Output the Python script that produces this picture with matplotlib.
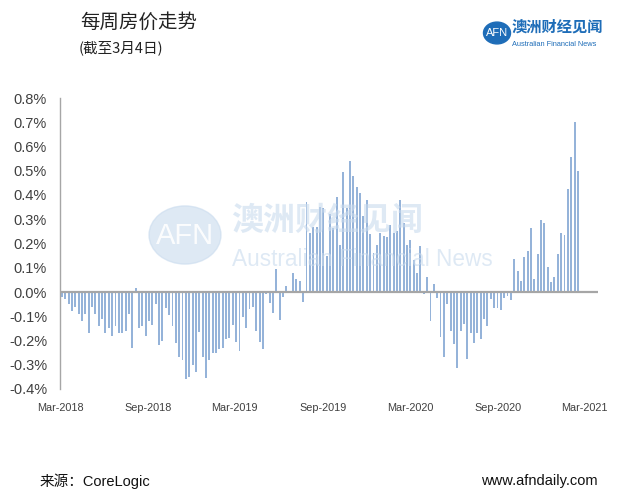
import matplotlib
matplotlib.use("Agg")
import matplotlib.pyplot as plt
import matplotlib.dates as mdates
from matplotlib.patches import Circle
import pandas as pd

plt.rcParams['font.family'] = ['Liberation Sans', 'Noto Sans CJK SC', 'DejaVu Sans']

# ---- data (weekly change, %) ----
start_date = "2018-03-05"
weekly_change = [
    -0.02, -0.03, -0.05, -0.08, -0.06, -0.09, -0.12, -0.09, -0.17, -0.06,
    -0.09, -0.14, -0.11, -0.17, -0.15, -0.18, -0.14, -0.17, -0.17, -0.16,
    -0.09, -0.23, 0.015, -0.15, -0.14, -0.18, -0.12, -0.135, -0.05, -0.22,
    -0.20, -0.065, -0.095, -0.14, -0.21, -0.27, -0.28, -0.36, -0.35, -0.30,
    -0.33, -0.165, -0.27, -0.355, -0.28, -0.25, -0.25, -0.235, -0.23, -0.195,
    -0.19, -0.135, -0.205, -0.245, -0.105, -0.15, -0.07, -0.06, -0.16, -0.205,
    -0.235, -0.01, -0.045, -0.085, 0.095, -0.115, -0.02, 0.025, -0.005, 0.08,
    0.055, 0.045, -0.04, 0.37, 0.245, 0.27, 0.27, 0.35, 0.345, 0.15,
    0.32, 0.265, 0.39, 0.195, 0.495, 0.345, 0.54, 0.48, 0.435, 0.41,
    0.315, 0.38, 0.24, 0.16, 0.195, 0.245, 0.23, 0.225, 0.275, 0.245,
    0.25, 0.38, 0.285, 0.195, 0.215, 0.13, 0.08, 0.19, -0.01, 0.06,
    -0.12, 0.035, -0.025, -0.185, -0.27, -0.05, -0.16, -0.215, -0.315, -0.16,
    -0.13, -0.275, -0.17, -0.21, -0.17, -0.195, -0.11, -0.14, -0.03, -0.065,
    -0.065, -0.075, -0.025, -0.015, -0.035, 0.135, 0.085, 0.045, 0.145, 0.17,
    0.265, 0.055, 0.155, 0.295, 0.285, 0.105, 0.04, 0.06, 0.155, 0.245,
    0.235, 0.425, 0.555, 0.70, 0.50,
]
weeks = pd.date_range(start_date, periods=len(weekly_change), freq="7D")
y_ticks = [0.8, 0.7, 0.6, 0.5, 0.4, 0.3, 0.2, 0.1, 0.0, -0.1, -0.2, -0.3, -0.4]
x_tick_dates = pd.to_datetime(["2018-03-01", "2018-09-01", "2019-03-01", "2019-09-01",
                               "2020-03-01", "2020-09-01", "2021-03-01"])

title = "每周房价走势"
subtitle = "(截至3月4日)"
source = "来源：CoreLogic"
site = "www.afndaily.com"

W, H = 620, 501
fig = plt.figure(figsize=(W / 100, H / 100), dpi=100)
fig.patch.set_facecolor("white")

def fx(px):
    return px / W

def fy(py):
    return 1 - py / H

ax = fig.add_axes([fx(59.5), fy(389), fx(598) - fx(59.5), (389 - 98) / H])

ax.bar(weeks, weekly_change, width=4.0, color="#95B3D9", edgecolor="none", zorder=2)
ax.axhline(0, color="#A6A6A6", lw=1.6, zorder=3)

ax.set_ylim(-0.4, 0.8)
ax.set_yticks(y_ticks)
ax.set_yticklabels([f"{v:.1f}%" for v in y_ticks])
ax.set_xlim(weeks[0] - pd.Timedelta(days=5), weeks[0] + pd.Timedelta(days=1120))
ax.set_xticks(x_tick_dates)
ax.xaxis.set_major_formatter(mdates.DateFormatter("%b-%Y"))

for s in ["top", "right", "bottom"]:
    ax.spines[s].set_visible(False)
ax.spines["left"].set_color("#A6A6A6")
ax.spines["left"].set_linewidth(1.0)
ax.tick_params(axis="y", length=0, pad=9, labelsize=10.5, labelcolor="#404040")
ax.tick_params(axis="x", length=0, pad=10, labelsize=7.8, labelcolor="#404040")

# titles
fig.text(fx(80), fy(22), title, fontsize=14, family=["Noto Sans CJK SC"], color="#222222",
         va="center", ha="left")
fig.text(fx(79), fy(48), subtitle, fontsize=10.5, family=["Noto Sans CJK SC"], color="#222222",
         va="center", ha="left")

# logo top right
logo_blue = "#1E6DB8"
fig.add_artist(Circle((fx(497), fy(33)), 13.5 / W, transform=fig.transFigure,
                      color=logo_blue, zorder=5))
fig.text(fx(497), fy(33), "AFN", fontsize=8, color="white", ha="center", va="center",
         family=["Liberation Sans"], zorder=6)
fig.text(fx(512), fy(27), "澳洲财经见闻", fontsize=11, color=logo_blue, ha="left", va="center",
         family=["Noto Sans CJK SC"], fontweight="bold")
fig.text(fx(512), fy(44), "Australian Financial News", fontsize=5.3, color=logo_blue,
         ha="left", va="center", family=["Liberation Sans"])

# watermark
wm = "#C9DBEE"
fig.add_artist(Circle((fx(185), fy(235)), 36 / W, transform=fig.transFigure,
                      color=wm, alpha=0.6, zorder=4))
fig.text(fx(185), fy(236), "AFN", fontsize=21, color="white", ha="center", va="center",
         family=["Liberation Sans"], alpha=0.9, zorder=5)
fig.text(fx(231), fy(221), "澳洲财经见闻", fontsize=23, color=wm, ha="left", va="center",
         family=["Noto Sans CJK SC"], fontweight="bold", alpha=0.6, zorder=5)
fig.text(fx(232), fy(259), "Australian Financial News", fontsize=16.3, color=wm, ha="left",
         va="center", family=["Liberation Sans"], alpha=0.6, zorder=5)

# footer
fig.text(fx(40), fy(481), source, fontsize=10.5, family=["Liberation Sans", "Noto Sans CJK SC"],
         color="#111111", ha="left", va="center")
fig.text(fx(598), fy(481), site, fontsize=10.5, family=["Liberation Sans"], color="#111111",
         ha="right", va="center")

fig.savefig("out.png", dpi=100, facecolor="white")
